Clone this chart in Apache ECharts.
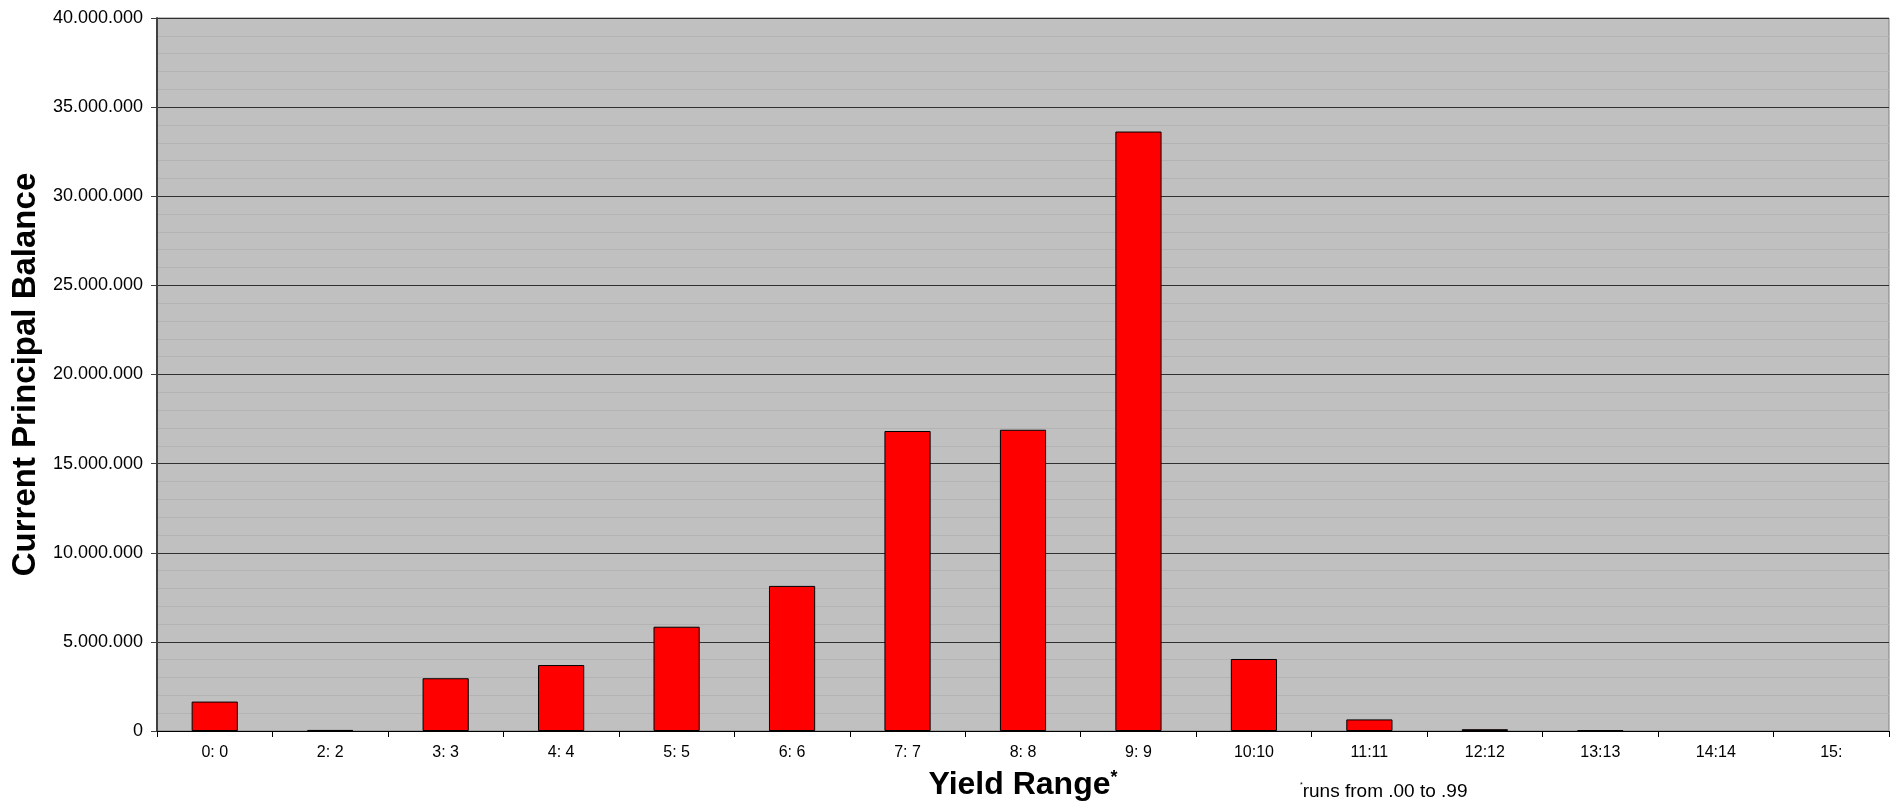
<!DOCTYPE html>
<html>
<head>
<meta charset="utf-8">
<title>Current Principal Balance by Yield Range</title>
<script src="https://cdn.jsdelivr.net/npm/echarts@6/dist/echarts.min.js"></script>
<style>
  html, body { margin: 0; padding: 0; background: #ffffff; }
  #chart { width: 1892px; height: 806px; }
</style>
</head>
<body>
<div id="chart"></div>
<script>
// Yield range buckets (each runs from .00 to .99)
const categories = ['0: 0', '2: 2', '3: 3', '4: 4', '5: 5', '6: 6', '7: 7', '8: 8', '9: 9',
                    '10:10', '11:11', '12:12', '13:13', '14:14', '15:'];

// Current principal balance per bucket
const balances = [1650000, 60000, 2960000, 3700000, 5850000, 8140000, 16830000, 16900000,
                  33630000, 4040000, 650000, 100000, 40000, 0, 0];

// Value axis range and step
const yMin = 0;
const yMax = 40000000;
const yStep = 5000000;

const FONT = '"Liberation Sans", Arial, Helvetica, sans-serif';

function fmtThousands(v) {
  return String(Math.round(v)).replace(/\B(?=(\d{3})+(?!\d))/g, '.');
}

// Empty buckets get no outline so nothing is drawn on the baseline
const barData = balances.map(v => (v === 0 ? { value: v, itemStyle: { borderWidth: 0 } } : v));

const chart = echarts.init(document.getElementById('chart'), null, { renderer: 'canvas' });

chart.setOption({
  animation: false,
  backgroundColor: '#ffffff',
  grid: {
    left: 157,
    right: 3,
    top: 18,
    bottom: 72,
    show: true,
    backgroundColor: '#c0c0c0',
    borderColor: '#808080',
    borderWidth: 1
  },
  xAxis: {
    type: 'category',
    data: categories,
    boundaryGap: true,
    name: '{t|Yield Range}{s|*}',
    nameLocation: 'middle',
    nameGap: 38,
    nameTextStyle: {
      rich: {
        t: { fontFamily: FONT, fontSize: 32, fontWeight: 'bold', color: '#000' },
        s: { fontFamily: FONT, fontSize: 18, fontWeight: 'bold', color: '#000', verticalAlign: 'top', padding: [0, 0, 14, 0] }
      }
    },
    axisLine: { show: true, lineStyle: { color: '#000000', width: 1 } },
    axisTick: { show: true, alignWithLabel: false, length: 6, lineStyle: { color: '#000000' } },
    axisLabel: { fontFamily: FONT, fontSize: 16, color: '#000', margin: 14, interval: 0 },
    splitLine: { show: false }
  },
  yAxis: {
    type: 'value',
    min: yMin,
    max: yMax,
    interval: yStep,
    name: 'Current Principal Balance',
    nameLocation: 'middle',
    nameRotate: 90,
    nameGap: 112,
    nameTextStyle: { fontFamily: FONT, fontSize: 33, fontWeight: 'bold', color: '#000' },
    axisLine: { show: true, lineStyle: { color: '#404040', width: 2 } },
    axisTick: { show: true, length: 6, lineStyle: { color: '#404040' } },
    axisLabel: {
      fontFamily: FONT, fontSize: 18, color: '#000', margin: 14,
      formatter: fmtThousands
    },
    splitLine: { show: true, lineStyle: { color: '#303030', width: 1 } },
    minorTick: { show: false, splitNumber: 5 },
    minorSplitLine: { show: true, lineStyle: { color: '#b3b3b3', width: 1 } }
  },
  series: [{
    type: 'bar',
    data: barData,
    barWidth: '40%',
    itemStyle: { color: '#ff0000', borderColor: '#000000', borderWidth: 1 },
    label: { show: false }
  }],
  graphic: [{
    type: 'text',
    left: 1300,
    top: 782,
    style: {
      text: '{a|*}{b|runs from .00 to .99}',
      rich: {
        a: { fontFamily: FONT, fontSize: 7, color: '#000', verticalAlign: 'top', padding: [0, 0, 12, 0] },
        b: { fontFamily: FONT, fontSize: 19, color: '#000' }
      }
    }
  }]
});
</script>
</body>
</html>
